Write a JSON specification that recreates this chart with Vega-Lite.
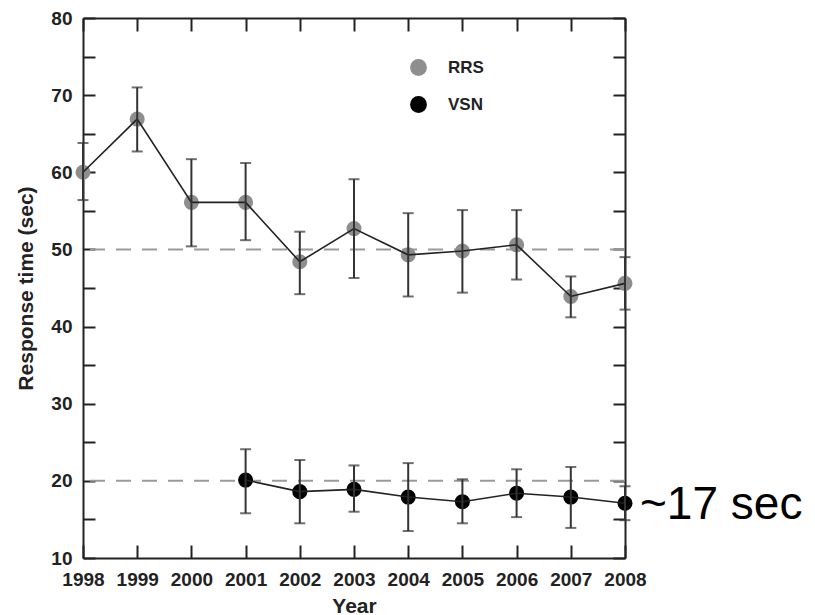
{
  "$schema": "https://vega.github.io/schema/vega-lite/v6.json",
  "width": 542,
  "height": 540,
  "autosize": {"type": "none"},
  "padding": {"left": 83, "top": 18, "right": 190, "bottom": 57},
  "background": "white",
  "config": {
    "font": "Liberation Sans",
    "view": {"stroke": null},
    "axis": {
      "grid": false,
      "domainColor": "#222222",
      "domainWidth": 2,
      "tickColor": "#222222",
      "tickWidth": 2,
      "labelColor": "#222222",
      "labelFont": "Liberation Sans",
      "labelFontWeight": "bold",
      "labelFontSize": 19,
      "titleFont": "Liberation Sans",
      "titleFontWeight": "bold",
      "titleFontSize": 21,
      "titleColor": "#222222"
    }
  },
  "datasets": {
    "pts": [
      {"year": 1998, "series": "RRS", "mean": 60.0, "lo": 56.4, "hi": 63.8},
      {"year": 1999, "series": "RRS", "mean": 66.9, "lo": 62.7, "hi": 71.0},
      {"year": 2000, "series": "RRS", "mean": 56.1, "lo": 50.4, "hi": 61.7},
      {"year": 2001, "series": "RRS", "mean": 56.1, "lo": 51.2, "hi": 61.2},
      {"year": 2002, "series": "RRS", "mean": 48.4, "lo": 44.2, "hi": 52.3},
      {"year": 2003, "series": "RRS", "mean": 52.7, "lo": 46.3, "hi": 59.1},
      {"year": 2004, "series": "RRS", "mean": 49.3, "lo": 43.9, "hi": 54.7},
      {"year": 2005, "series": "RRS", "mean": 49.8, "lo": 44.4, "hi": 55.1},
      {"year": 2006, "series": "RRS", "mean": 50.6, "lo": 46.1, "hi": 55.1},
      {"year": 2007, "series": "RRS", "mean": 43.9, "lo": 41.2, "hi": 46.5},
      {"year": 2008, "series": "RRS", "mean": 45.6, "lo": 42.2, "hi": 49.0},
      {"year": 2001, "series": "VSN", "mean": 20.1, "lo": 15.8, "hi": 24.1},
      {"year": 2002, "series": "VSN", "mean": 18.6, "lo": 14.5, "hi": 22.7},
      {"year": 2003, "series": "VSN", "mean": 18.9, "lo": 16.0, "hi": 22.0},
      {"year": 2004, "series": "VSN", "mean": 17.9, "lo": 13.5, "hi": 22.3},
      {"year": 2005, "series": "VSN", "mean": 17.3, "lo": 14.5, "hi": 20.2},
      {"year": 2006, "series": "VSN", "mean": 18.4, "lo": 15.3, "hi": 21.5},
      {"year": 2007, "series": "VSN", "mean": 17.9, "lo": 13.9, "hi": 21.8},
      {"year": 2008, "series": "VSN", "mean": 17.1, "lo": 14.9, "hi": 19.3}
    ],
    "refs": [{"ref": 50}, {"ref": 20}],
    "note": [{"year": 2008, "val": 17.1, "label": "~17 sec"}]
  },
  "layer": [
    {
      "data": {"name": "refs"},
      "mark": {"type": "rule", "color": "#9a9a9a", "strokeWidth": 2, "strokeDash": [15, 11]},
      "encoding": {
        "y": {"field": "ref", "type": "quantitative", "axis": null}
      }
    },
    {
      "data": {"name": "pts"},
      "mark": {"type": "circle", "size": 227, "opacity": 1},
      "encoding": {
        "x": {
          "field": "year", "type": "quantitative",
          "scale": {"domain": [1998, 2008], "nice": false, "zero": false},
          "axis": {
            "orient": "bottom", "title": "Year", "values": [1998, 1999, 2000, 2001, 2002, 2003, 2004, 2005, 2006, 2007, 2008],
            "format": "d", "tickSize": -13, "labelPadding": 25, "titlePadding": 6, "labelFlush": false, "labelOverlap": false
          }
        },
        "y": {
          "field": "mean", "type": "quantitative",
          "scale": {"domain": [10, 80], "nice": false, "zero": false},
          "axis": {
            "orient": "left", "title": "Response time (sec)",
            "values": [10, 15, 20, 25, 30, 35, 40, 45, 50, 55, 60, 65, 70, 75, 80],
            "labelExpr": "datum.value % 10 == 0 ? datum.label : ''",
            "tickSize": -12, "labelPadding": 23, "titlePadding": 14, "labelFlush": false, "labelOverlap": false
          }
        },
        "color": {
          "field": "series", "type": "nominal",
          "scale": {"domain": ["RRS", "VSN"], "range": ["#8e8e8e", "#000000"]},
          "legend": {
            "orient": "none", "legendX": 327, "legendY": 41, "title": null,
            "padding": 0, "symbolType": "circle", "symbolSize": 283, "symbolStrokeWidth": 0,
            "symbolOpacity": 1,
            "labelFontSize": 17, "labelFontWeight": "bold", "labelFont": "Liberation Sans", "labelColor": "#222222",
            "labelOffset": 21, "rowPadding": 19
          }
        }
      }
    },
    {
      "data": {"name": "pts"},
      "mark": {"type": "line", "color": "#222222", "strokeWidth": 1.6},
      "encoding": {
        "x": {
          "field": "year", "type": "quantitative",
          "axis": {"orient": "top", "title": null, "labels": false, "values": [1998, 1999, 2000, 2001, 2002, 2003, 2004, 2005, 2006, 2007, 2008], "tickSize": -13}
        },
        "y": {
          "field": "mean", "type": "quantitative",
          "axis": {"orient": "right", "title": null, "labels": false, "values": [10, 15, 20, 25, 30, 35, 40, 45, 50, 55, 60, 65, 70, 75, 80], "tickSize": -12}
        },
        "detail": {"field": "series", "type": "nominal"}
      }
    },
    {
      "data": {"name": "pts"},
      "mark": {"type": "rule", "color": "#333333", "strokeWidth": 2},
      "encoding": {
        "x": {"field": "year", "type": "quantitative", "axis": null},
        "y": {"field": "lo", "type": "quantitative", "axis": null},
        "y2": {"field": "hi"}
      }
    },
    {
      "data": {"name": "pts"},
      "mark": {"type": "tick", "orient": "horizontal", "color": "#333333", "size": 11, "thickness": 2},
      "encoding": {
        "x": {"field": "year", "type": "quantitative", "axis": null},
        "y": {"field": "lo", "type": "quantitative", "axis": null}
      }
    },
    {
      "data": {"name": "pts"},
      "mark": {"type": "tick", "orient": "horizontal", "color": "#333333", "size": 11, "thickness": 2},
      "encoding": {
        "x": {"field": "year", "type": "quantitative", "axis": null},
        "y": {"field": "hi", "type": "quantitative", "axis": null}
      }
    },
    {
      "data": {"name": "note"},
      "mark": {"type": "text", "align": "left", "baseline": "middle", "dx": 15, "dy": 2, "fontSize": 46, "font": "Liberation Sans", "color": "#000000"},
      "encoding": {
        "x": {"field": "year", "type": "quantitative", "axis": null},
        "y": {"field": "val", "type": "quantitative", "axis": null},
        "text": {"field": "label"}
      }
    }
  ],
  "resolve": {"axis": {"x": "independent", "y": "independent"}}
}
